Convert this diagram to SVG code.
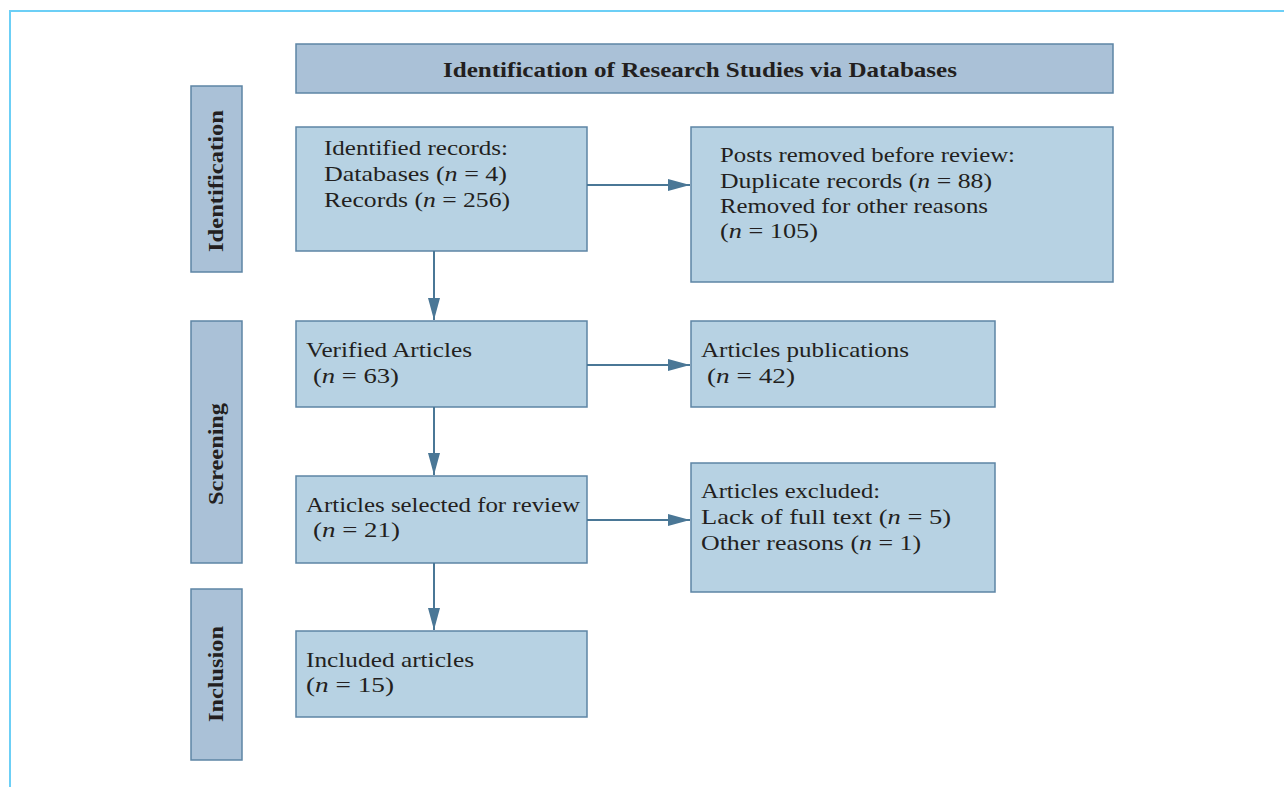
<svg xmlns="http://www.w3.org/2000/svg" width="1284" height="787" viewBox="0 0 1284 787">
<style>
.frame{stroke:#6ccff6;stroke-width:2;fill:none}
.hdr{fill:#aac1d7;stroke:#5d85a5;stroke-width:1.5}
.box{fill:#b7d2e3;stroke:#5d85a5;stroke-width:1.5}
.t{font-family:"Liberation Serif","Times New Roman",serif;font-size:22px;fill:#231f20}
.b{font-family:"Liberation Serif","Times New Roman",serif;font-size:21px;font-weight:bold;fill:#231f20}
.i{font-style:italic}
.c{stroke:#4a7796;stroke-width:2;fill:none}
</style>
<defs>
<marker id="ah" markerWidth="22" markerHeight="12" refX="22" refY="6" orient="auto" markerUnits="userSpaceOnUse">
<path d="M0,0 L22,6 L0,12 Z" fill="#4a7796"/>
</marker>
</defs>
<rect width="1284" height="787" fill="#ffffff"/>
<path class="frame" d="M10,787 L10,11 L1284,11"/>

<g id="title">
<rect class="hdr" x="296" y="44" width="817" height="49"/>
<text class="b" x="700" y="77" text-anchor="middle" textLength="514" lengthAdjust="spacingAndGlyphs">Identification of Research Studies via Databases</text>
</g>

<g id="stage-identification">
<rect class="hdr" x="191" y="86" width="51" height="186"/>
<text class="b" transform="translate(223,181) rotate(-90)" text-anchor="middle" textLength="142" lengthAdjust="spacingAndGlyphs">Identification</text>
</g>
<g id="stage-screening">
<rect class="hdr" x="191" y="321" width="51" height="242"/>
<text class="b" transform="translate(223,454) rotate(-90)" text-anchor="middle" textLength="102" lengthAdjust="spacingAndGlyphs">Screening</text>
</g>
<g id="stage-inclusion">
<rect class="hdr" x="191" y="589" width="51" height="171"/>
<text class="b" transform="translate(223,674) rotate(-90)" text-anchor="middle" textLength="96" lengthAdjust="spacingAndGlyphs">Inclusion</text>
</g>

<g id="identified">
<rect class="box" x="296" y="127" width="291" height="124"/>
<text class="t" x="324" y="155" textLength="184" lengthAdjust="spacingAndGlyphs">Identified records:</text>
<text class="t" x="324" y="181" textLength="183" lengthAdjust="spacingAndGlyphs">Databases (<tspan class="i">n</tspan> = 4)</text>
<text class="t" x="324" y="207" textLength="186" lengthAdjust="spacingAndGlyphs">Records (<tspan class="i">n</tspan> = 256)</text>
</g>

<g id="removed">
<rect class="box" x="691" y="127" width="422" height="155"/>
<text class="t" x="720" y="162" textLength="295" lengthAdjust="spacingAndGlyphs">Posts removed before review:</text>
<text class="t" x="720" y="188" textLength="272" lengthAdjust="spacingAndGlyphs">Duplicate records (<tspan class="i">n</tspan> = 88)</text>
<text class="t" x="720" y="213" textLength="268" lengthAdjust="spacingAndGlyphs">Removed for other reasons</text>
<text class="t" x="720" y="238" textLength="98" lengthAdjust="spacingAndGlyphs">(<tspan class="i">n</tspan> = 105)</text>
</g>

<g id="verified">
<rect class="box" x="296" y="321" width="291" height="86"/>
<text class="t" x="306" y="357" textLength="166" lengthAdjust="spacingAndGlyphs">Verified Articles</text>
<text class="t" x="313" y="383" textLength="86" lengthAdjust="spacingAndGlyphs">(<tspan class="i">n</tspan> = 63)</text>
</g>

<g id="publications">
<rect class="box" x="691" y="321" width="304" height="86"/>
<text class="t" x="701" y="357" textLength="208" lengthAdjust="spacingAndGlyphs">Articles publications</text>
<text class="t" x="707" y="383" textLength="88" lengthAdjust="spacingAndGlyphs">(<tspan class="i">n</tspan> = 42)</text>
</g>

<g id="selected">
<rect class="box" x="296" y="476" width="291" height="87"/>
<text class="t" x="306" y="512" textLength="274" lengthAdjust="spacingAndGlyphs">Articles selected for review</text>
<text class="t" x="313" y="537" textLength="87" lengthAdjust="spacingAndGlyphs">(<tspan class="i">n</tspan> = 21)</text>
</g>

<g id="excluded">
<rect class="box" x="691" y="463" width="304" height="129"/>
<text class="t" x="701" y="498" textLength="179" lengthAdjust="spacingAndGlyphs">Articles excluded:</text>
<text class="t" x="701" y="524" textLength="250" lengthAdjust="spacingAndGlyphs">Lack of full text (<tspan class="i">n</tspan> = 5)</text>
<text class="t" x="701" y="550" textLength="220" lengthAdjust="spacingAndGlyphs">Other reasons (<tspan class="i">n</tspan> = 1)</text>
</g>

<g id="included">
<rect class="box" x="296" y="631" width="291" height="86"/>
<text class="t" x="306" y="667" textLength="168" lengthAdjust="spacingAndGlyphs">Included articles</text>
<text class="t" x="306" y="692" textLength="88" lengthAdjust="spacingAndGlyphs">(<tspan class="i">n</tspan> = 15)</text>
</g>

<g id="connectors">
<line class="c" x1="434" y1="251" x2="434" y2="320" marker-end="url(#ah)"/>
<line class="c" x1="434" y1="407" x2="434" y2="475" marker-end="url(#ah)"/>
<line class="c" x1="434" y1="563" x2="434" y2="630" marker-end="url(#ah)"/>
<line class="c" x1="587" y1="185" x2="690" y2="185" marker-end="url(#ah)"/>
<line class="c" x1="587" y1="365" x2="690" y2="365" marker-end="url(#ah)"/>
<line class="c" x1="587" y1="520" x2="690" y2="520" marker-end="url(#ah)"/>
</g>
</svg>
